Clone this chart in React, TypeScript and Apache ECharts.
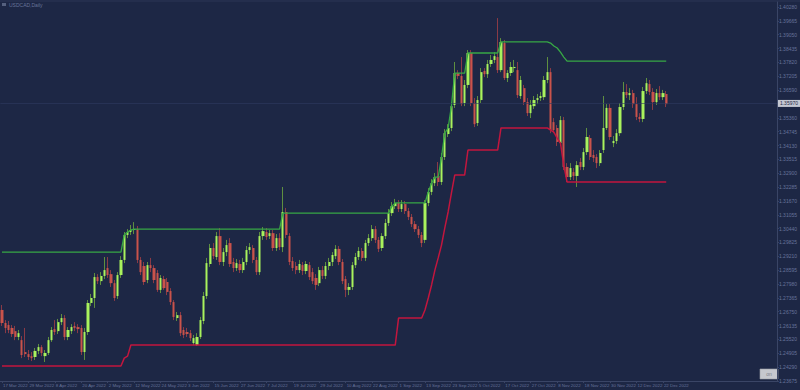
import { useEffect, useRef } from 'react';
import * as echarts from 'echarts';

// ---------------- data ----------------
const SYMBOL_LABEL = 'USDCAD,Daily';
const FIRST_DAY = [2022, 2, 17]; // 17 Mar 2022 (month is 0-based)
const MONTHS = ['Jan', 'Feb', 'Mar', 'Apr', 'May', 'Jun', 'Jul', 'Aug', 'Sep', 'Oct', 'Nov', 'Dec'];
const EMPTY_SLOTS = 33; // chart shift space on the right
const LABEL_EVERY = 8;

// daily bars: [open, close, low, high]
const ohlc: number[][] = [
  [1.2683, 1.2625, 1.2612, 1.2705], [1.2625, 1.2603, 1.2580, 1.2638], [1.2616, 1.2594, 1.2580, 1.2634],
  [1.2603, 1.2576, 1.2563, 1.2616], [1.2589, 1.2563, 1.2549, 1.2612], [1.2563, 1.2580, 1.2549, 1.2594],
  [1.2549, 1.2483, 1.2469, 1.2567], [1.2496, 1.2487, 1.2474, 1.2603], [1.2487, 1.2474, 1.2461, 1.2505],
  [1.2478, 1.2469, 1.2456, 1.2496], [1.2474, 1.2501, 1.2461, 1.2514], [1.2501, 1.2518, 1.2487, 1.2532],
  [1.2518, 1.2492, 1.2478, 1.2527], [1.2478, 1.2492, 1.2452, 1.2505], [1.2492, 1.2549, 1.2483, 1.2563],
  [1.2549, 1.2594, 1.2541, 1.2607], [1.2598, 1.2585, 1.2572, 1.2638], [1.2589, 1.2629, 1.2576, 1.2643],
  [1.2629, 1.2647, 1.2616, 1.2665], [1.2647, 1.2563, 1.2549, 1.2660], [1.2563, 1.2594, 1.2549, 1.2607],
  [1.2589, 1.2607, 1.2576, 1.2620], [1.2612, 1.2603, 1.2589, 1.2629], [1.2607, 1.2598, 1.2580, 1.2620],
  [1.2603, 1.2496, 1.2483, 1.2616], [1.2496, 1.2585, 1.2461, 1.2603], [1.2585, 1.2714, 1.2572, 1.2727],
  [1.2714, 1.2736, 1.2700, 1.2754], [1.2736, 1.2829, 1.2692, 1.2847], [1.2829, 1.2811, 1.2798, 1.2842],
  [1.2811, 1.2834, 1.2794, 1.2851], [1.2834, 1.2860, 1.2820, 1.2918], [1.2869, 1.2838, 1.2825, 1.2918],
  [1.2842, 1.2802, 1.2785, 1.2860], [1.2802, 1.2736, 1.2723, 1.2816], [1.2745, 1.2838, 1.2732, 1.2851],
  [1.2838, 1.2905, 1.2825, 1.2922], [1.2905, 1.3016, 1.2891, 1.3029], [1.3016, 1.3029, 1.3002, 1.3042],
  [1.3029, 1.3038, 1.3016, 1.3060], [1.3038, 1.3042, 1.3020, 1.3073], [1.3042, 1.2905, 1.2891, 1.3056],
  [1.2905, 1.2851, 1.2838, 1.2918], [1.2878, 1.2807, 1.2794, 1.2896], [1.2816, 1.2882, 1.2802, 1.2896],
  [1.2882, 1.2869, 1.2851, 1.2914], [1.2869, 1.2816, 1.2802, 1.2882], [1.2847, 1.2772, 1.2763, 1.2860],
  [1.2772, 1.2825, 1.2758, 1.2838], [1.2820, 1.2780, 1.2772, 1.2834], [1.2807, 1.2763, 1.2749, 1.2825],
  [1.2767, 1.2718, 1.2705, 1.2780], [1.2718, 1.2652, 1.2638, 1.2727], [1.2647, 1.2660, 1.2634, 1.2674],
  [1.2660, 1.2580, 1.2567, 1.2674], [1.2594, 1.2572, 1.2558, 1.2607], [1.2585, 1.2576, 1.2563, 1.2603],
  [1.2580, 1.2558, 1.2545, 1.2594], [1.2536, 1.2558, 1.2527, 1.2572], [1.2527, 1.2563, 1.2523, 1.2580],
  [1.2563, 1.2638, 1.2554, 1.2652], [1.2634, 1.2745, 1.2620, 1.2763], [1.2745, 1.2891, 1.2732, 1.2914],
  [1.2887, 1.2958, 1.2874, 1.2976], [1.2958, 1.2922, 1.2909, 1.2980], [1.2918, 1.3011, 1.2905, 1.3029],
  [1.3011, 1.2896, 1.2882, 1.3047], [1.2896, 1.2940, 1.2878, 1.2958], [1.2940, 1.2971, 1.2922, 1.2994],
  [1.2980, 1.2887, 1.2874, 1.3002], [1.2896, 1.2869, 1.2851, 1.2914], [1.2869, 1.2891, 1.2856, 1.2909],
  [1.2887, 1.2860, 1.2847, 1.2905], [1.2860, 1.2896, 1.2847, 1.2914], [1.2896, 1.2949, 1.2882, 1.2967],
  [1.2949, 1.2962, 1.2931, 1.2980], [1.2958, 1.2905, 1.2891, 1.2971], [1.2905, 1.2851, 1.2838, 1.2918],
  [1.2851, 1.3011, 1.2838, 1.3029], [1.3011, 1.3033, 1.2994, 1.3051], [1.3029, 1.3007, 1.2994, 1.3047],
  [1.3011, 1.3024, 1.2998, 1.3038], [1.3024, 1.2958, 1.2945, 1.3038], [1.2958, 1.3002, 1.2945, 1.3020],
  [1.3002, 1.2962, 1.2949, 1.3024], [1.2962, 1.3118, 1.2940, 1.3229], [1.3118, 1.3016, 1.3002, 1.3136],
  [1.3011, 1.2896, 1.2882, 1.3024], [1.2900, 1.2869, 1.2856, 1.2918], [1.2878, 1.2860, 1.2842, 1.2896],
  [1.2860, 1.2887, 1.2847, 1.2905], [1.2882, 1.2856, 1.2838, 1.2896], [1.2856, 1.2887, 1.2842, 1.2900],
  [1.2882, 1.2829, 1.2816, 1.2896], [1.2851, 1.2811, 1.2798, 1.2869], [1.2825, 1.2794, 1.2772, 1.2842],
  [1.2802, 1.2860, 1.2789, 1.2874], [1.2860, 1.2834, 1.2820, 1.2878], [1.2834, 1.2878, 1.2820, 1.2896],
  [1.2878, 1.2896, 1.2860, 1.2914], [1.2896, 1.2927, 1.2878, 1.2940], [1.2922, 1.2954, 1.2909, 1.2971],
  [1.2954, 1.2896, 1.2882, 1.2967], [1.2896, 1.2811, 1.2798, 1.2909], [1.2820, 1.2772, 1.2740, 1.2834],
  [1.2772, 1.2785, 1.2749, 1.2802], [1.2785, 1.2882, 1.2772, 1.2896], [1.2882, 1.2918, 1.2869, 1.2936],
  [1.2918, 1.2945, 1.2905, 1.2962], [1.2945, 1.2914, 1.2900, 1.2958], [1.2914, 1.2980, 1.2900, 1.2994],
  [1.2980, 1.3002, 1.2967, 1.3020], [1.3002, 1.3042, 1.2989, 1.3060], [1.3042, 1.2994, 1.2980, 1.3056],
  [1.2994, 1.2954, 1.2940, 1.3007], [1.2958, 1.3011, 1.2945, 1.3024], [1.3011, 1.3069, 1.2998, 1.3087],
  [1.3069, 1.3113, 1.3056, 1.3131], [1.3113, 1.3144, 1.3100, 1.3162], [1.3144, 1.3158, 1.3131, 1.3176],
  [1.3158, 1.3131, 1.3118, 1.3171], [1.3131, 1.3153, 1.3118, 1.3171], [1.3153, 1.3122, 1.3109, 1.3167],
  [1.3122, 1.3096, 1.3082, 1.3136], [1.3096, 1.3064, 1.3051, 1.3109], [1.3064, 1.3042, 1.3029, 1.3078],
  [1.3042, 1.3016, 1.3002, 1.3056], [1.3016, 1.2980, 1.2962, 1.3029], [1.2994, 1.3158, 1.2980, 1.3171],
  [1.3158, 1.3207, 1.3144, 1.3224], [1.3207, 1.3246, 1.3193, 1.3264], [1.3246, 1.3273, 1.3233, 1.3291],
  [1.3278, 1.3251, 1.3233, 1.3340], [1.3251, 1.3362, 1.3238, 1.3380], [1.3362, 1.3468, 1.3349, 1.3486],
  [1.3464, 1.3491, 1.3451, 1.3508], [1.3491, 1.3588, 1.3477, 1.3606], [1.3593, 1.3735, 1.3580, 1.3784],
  [1.3735, 1.3722, 1.3708, 1.3748], [1.3722, 1.3597, 1.3588, 1.3806], [1.3602, 1.3682, 1.3588, 1.3704],
  [1.3682, 1.3824, 1.3668, 1.3837], [1.3824, 1.3602, 1.3588, 1.3837], [1.3602, 1.3508, 1.3495, 1.3624],
  [1.3513, 1.3615, 1.3500, 1.3633], [1.3615, 1.3739, 1.3602, 1.3757], [1.3744, 1.3730, 1.3717, 1.3757],
  [1.3730, 1.3775, 1.3713, 1.3793], [1.3775, 1.3793, 1.3762, 1.3815], [1.3793, 1.3810, 1.3779, 1.3828],
  [1.3806, 1.3748, 1.3735, 1.3979], [1.3748, 1.3873, 1.3739, 1.3890], [1.3868, 1.3713, 1.3704, 1.3882],
  [1.3713, 1.3735, 1.3695, 1.3748], [1.3735, 1.3762, 1.3722, 1.3784], [1.3757, 1.3762, 1.3739, 1.3793],
  [1.3748, 1.3637, 1.3624, 1.3784], [1.3633, 1.3704, 1.3620, 1.3722], [1.3668, 1.3606, 1.3593, 1.3682],
  [1.3606, 1.3557, 1.3544, 1.3624], [1.3557, 1.3593, 1.3535, 1.3615], [1.3588, 1.3615, 1.3575, 1.3633],
  [1.3615, 1.3624, 1.3597, 1.3642], [1.3624, 1.3633, 1.3611, 1.3651], [1.3628, 1.3704, 1.3615, 1.3722],
  [1.3704, 1.3739, 1.3690, 1.3806], [1.3739, 1.3482, 1.3468, 1.3757], [1.3517, 1.3482, 1.3468, 1.3535],
  [1.3491, 1.3429, 1.3411, 1.3504], [1.3424, 1.3526, 1.3411, 1.3544], [1.3526, 1.3318, 1.3304, 1.3540],
  [1.3318, 1.3273, 1.3251, 1.3335], [1.3273, 1.3313, 1.3260, 1.3335], [1.3295, 1.3278, 1.3260, 1.3313],
  [1.3278, 1.3326, 1.3229, 1.3344], [1.3340, 1.3318, 1.3304, 1.3358], [1.3318, 1.3384, 1.3304, 1.3402],
  [1.3384, 1.3451, 1.3371, 1.3491], [1.3446, 1.3362, 1.3349, 1.3460], [1.3371, 1.3358, 1.3340, 1.3393],
  [1.3362, 1.3335, 1.3313, 1.3375], [1.3335, 1.3380, 1.3322, 1.3393], [1.3393, 1.3491, 1.3380, 1.3633],
  [1.3491, 1.3580, 1.3482, 1.3597], [1.3580, 1.3451, 1.3438, 1.3597], [1.3424, 1.3433, 1.3406, 1.3455],
  [1.3433, 1.3468, 1.3420, 1.3486], [1.3468, 1.3584, 1.3455, 1.3602], [1.3584, 1.3651, 1.3571, 1.3695],
  [1.3651, 1.3637, 1.3624, 1.3686], [1.3637, 1.3646, 1.3615, 1.3668], [1.3646, 1.3597, 1.3580, 1.3660],
  [1.3597, 1.3540, 1.3526, 1.3628], [1.3540, 1.3531, 1.3517, 1.3557], [1.3531, 1.3655, 1.3517, 1.3673],
  [1.3655, 1.3690, 1.3642, 1.3713], [1.3686, 1.3651, 1.3637, 1.3704], [1.3651, 1.3606, 1.3571, 1.3668],
  [1.3606, 1.3646, 1.3593, 1.3664], [1.3646, 1.3628, 1.3615, 1.3677], [1.3628, 1.3646, 1.3615, 1.3660],
  [1.3642, 1.3597, 1.3584, 1.3655],
];

// channel lines: vertices [bar index, price]
const upperBand: number[][] = [
  [0, 1.2940], [36, 1.2940], [37, 1.3016], [38, 1.3029], [39, 1.3038], [40, 1.3042], [84, 1.3042],
  [85, 1.3113], [117, 1.3113], [118, 1.3144], [119, 1.3158], [128, 1.3158], [129, 1.3207], [130, 1.3246],
  [131, 1.3273], [132, 1.3273], [133, 1.3362], [134, 1.3468], [135, 1.3491], [136, 1.3588], [137, 1.3735],
  [140, 1.3735], [141, 1.3824], [150, 1.3824], [151, 1.3873], [165, 1.3873], [166, 1.3868], [167, 1.3855],
  [168, 1.3846], [169, 1.3828], [170, 1.3806], [171, 1.3788], [201, 1.3788],
];
const lowerBand: number[][] = [
  [0, 1.2434], [36, 1.2434], [37, 1.2469], [38, 1.2478], [39, 1.2527], [119, 1.2527], [120, 1.2647],
  [127, 1.2647], [128, 1.2683], [129, 1.2736], [130, 1.2794], [131, 1.2860], [132, 1.2914], [133, 1.2971],
  [134, 1.3047], [135, 1.3118], [136, 1.3202], [137, 1.3282], [140, 1.3282], [141, 1.3393], [150, 1.3393],
  [151, 1.3491], [165, 1.3491], [166, 1.3482], [167, 1.3473], [168, 1.3446], [169, 1.3424], [170, 1.3326],
  [171, 1.3251], [201, 1.3251],
];

const yTicks = [
  1.23675, 1.2429, 1.24905, 1.2552, 1.26135, 1.2675, 1.27365, 1.2798, 1.28595, 1.2921, 1.29825, 1.3044,
  1.31055, 1.3167, 1.32285, 1.329, 1.33515, 1.3413, 1.34745, 1.3536, 1.35975, 1.3659, 1.37205, 1.3782,
  1.38435, 1.3905, 1.39665, 1.4028,
];
const Y_MIN = 1.23675;
const Y_MAX = 1.40504;

// ---------------- categories ----------------
function buildDates(count: number): string[] {
  const out: string[] = [];
  const d = new Date(Date.UTC(FIRST_DAY[0], FIRST_DAY[1], FIRST_DAY[2]));
  while (out.length < count) {
    const wd = d.getUTCDay();
    if (wd !== 0 && wd !== 6) {
      out.push(`${d.getUTCDate()} ${MONTHS[d.getUTCMonth()]} ${d.getUTCFullYear()}`);
    }
    d.setUTCDate(d.getUTCDate() + 1);
  }
  return out;
}

const BG = '#1d2745';
const AXIS = '#3a4566';
const TXT = '#67739a';
const FONT = 'Liberation Sans, DejaVu Sans, sans-serif';

export default function App() {
  const ref = useRef<HTMLDivElement>(null);

  useEffect(() => {
    if (!ref.current) return;
    const chart = echarts.init(ref.current, undefined, { renderer: 'svg' });
    const dates = buildDates(ohlc.length);
    const categories = dates.concat(Array.from({ length: EMPTY_SLOTS }, () => ''));
    const bodies = ohlc.map(([o, c]) => [o, c, Math.min(o, c), Math.max(o, c)]);
    const lastClose = ohlc[ohlc.length - 1][1];
    const showAt = (index: number) => index < ohlc.length && index % LABEL_EVERY === 0;

    chart.setOption({
      animation: false,
      backgroundColor: BG,
      grid: { left: 0, right: 19, top: 2, bottom: 9 },
      xAxis: {
        type: 'category',
        data: categories,
        boundaryGap: true,
        axisLine: { show: true, lineStyle: { color: AXIS, width: 1 } },
        axisTick: { show: true, alignWithLabel: true, length: 2, interval: (i: number) => showAt(i), lineStyle: { color: AXIS } },
        axisLabel: {
          interval: (i: number) => showAt(i),
          showMinLabel: true,
          align: 'left',
          margin: 2,
          padding: [0, 0, 0, 1],
          fontSize: 4.4,
          fontFamily: FONT,
          color: TXT,
        },
        splitLine: { show: false },
      },
      yAxis: {
        type: 'value',
        position: 'right',
        min: Y_MIN,
        max: Y_MAX,
        scale: true,
        splitLine: { show: false },
        axisLine: { show: true, lineStyle: { color: AXIS, width: 1 } },
        axisTick: { show: true, length: 2, customValues: yTicks, lineStyle: { color: AXIS } },
        axisLabel: {
          customValues: yTicks,
          margin: 2,
          fontSize: 5,
          fontFamily: FONT,
          color: TXT,
          formatter: (v: number) => v.toFixed(5),
        },
      },
      series: [
        {
          name: 'wicks',
          type: 'candlestick',
          data: ohlc,
          barWidth: 1,
          z: 2,
          itemStyle: {
            color: '#5e8f40',
            color0: '#8a3a46',
            borderColor: '#5e8f40',
            borderColor0: '#8a3a46',
            borderWidth: 1,
          },
        },
        {
          name: 'bodies',
          type: 'candlestick',
          data: bodies,
          barWidth: 2.7,
          z: 3,
          itemStyle: {
            color: '#a9f25d',
            color0: '#c9534b',
            borderColor: '#a9f25d',
            borderColor0: '#c9534b',
            borderWidth: 0,
          },
          markLine: {
            silent: true,
            symbol: 'none',
            data: [{ yAxis: lastClose }],
            lineStyle: { color: '#2f3a5f', width: 0.6, type: 'solid' },
            label: {
              show: true,
              position: 'end',
              distance: 1,
              formatter: lastClose.toFixed(5),
              backgroundColor: '#c4c8d2',
              color: '#1d2745',
              fontSize: 5,
              fontFamily: FONT,
              padding: [1, 2, 1, 2],
            },
          },
        },
        {
          name: 'upper',
          type: 'line',
          data: upperBand,
          showSymbol: false,
          z: 4,
          lineStyle: { color: '#37a845', width: 1.3 },
        },
        {
          name: 'lower',
          type: 'line',
          data: lowerBand,
          showSymbol: false,
          z: 4,
          lineStyle: { color: '#c2163e', width: 1.5 },
        },
      ],
      graphic: [
        { type: 'line', shape: { x1: 0, y1: 1, x2: 800, y2: 1 }, style: { stroke: '#2c3757', lineWidth: 1 } },
        { type: 'rect', shape: { x: 2, y: 3, width: 4, height: 3 }, style: { fill: '#55607e' } },
        {
          type: 'text',
          x: 9,
          y: 2.5,
          style: { text: SYMBOL_LABEL, fontSize: 5, fontFamily: FONT, fill: TXT },
        },
        {
          type: 'rect',
          shape: { x: 760, y: 369, width: 18, height: 10 },
          style: { fill: '#c6c8ce', stroke: '#9fa2aa', lineWidth: 0.6 },
        },
        {
          type: 'text',
          x: 769,
          y: 374,
          style: { text: 'on', fontSize: 5, fontFamily: FONT, fill: '#7e8188', align: 'center', verticalAlign: 'middle' },
        },
      ],
    });

    return () => chart.dispose();
  }, []);

  return (
    <div
      ref={ref}
      style={{ position: 'fixed', left: 0, top: 0, width: 800, height: 390 }}
    />
  );
}
